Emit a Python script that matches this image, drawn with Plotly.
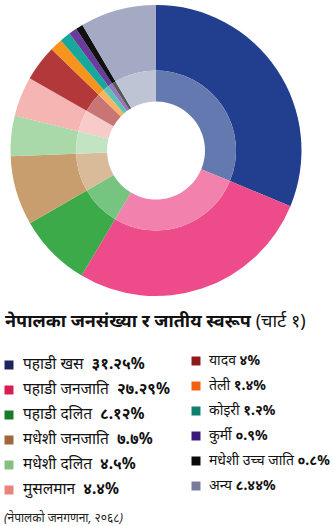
import plotly.graph_objects as go

labels = ["पहाडी खस", "पहाडी जनजाति", "पहाडी दलित", "मधेशी जनजाति", "मधेशी दलित", "मुसलमान",
          "यादव", "तेली", "कोइरी", "कुर्मी", "मधेशी उच्च जाति", "अन्य"]
values = [31.25, 27.29, 8.12, 7.7, 4.5, 4.4, 4.0, 1.4, 1.2, 0.9, 0.8, 8.44]
value_labels = ["३१.२५%", "२७.२९%", "८.१२%", "७.७%", "४.५%", "४.४%",
                "४%", "१.४%", "१.२%", "०.९%", "०.८%", "८.४४%"]
ring_colors = ["#213F8E", "#EE4B8A", "#3DAA4A", "#C99E6E", "#A9D9A9", "#F4B5B3",
               "#B2383A", "#F7941D", "#16A99B", "#6A3C9E", "#111111", "#A4AAC3"]
legend_colors = ["#1C2460", "#D81E50", "#1A7A2A", "#A0683A", "#86C080", "#E8847E",
                 "#8C1C1C", "#F06010", "#107F70", "#3A1A78", "#0A0A0A", "#787C9C"]
title_main = "नेपालका जनसंख्या र जातीय स्वरूप"
title_sub = "(चार्ट १)"
source = "(नेपालको जनगणना, २०६८)"

W, H = 333, 526
FONT = "Noto Sans, sans-serif"


def lighten(hexc, f=0.3):
    r, g, b = (int(hexc[i:i + 2], 16) for i in (1, 3, 5))
    r, g, b = (round(c * (1 - f) + 255 * f) for c in (r, g, b))
    return f"#{r:02X}{g:02X}{b:02X}"


inner_colors = [lighten(c) for c in ring_colors]

cx, cy = 156, 150.5
R_out, R_mid, R_in = 145.5, 80, 49


def dom(r):
    return dict(x=[(cx - r) / W, (cx + r) / W], y=[1 - (cy + r) / H, 1 - (cy - r) / H])


fig = go.Figure()
fig.add_trace(go.Pie(values=values, labels=labels, sort=False, direction="clockwise", rotation=0,
                     hole=R_mid / R_out, domain=dom(R_out), textinfo="none", hoverinfo="label+percent",
                     marker=dict(colors=ring_colors, line=dict(width=0)), showlegend=False))
fig.add_trace(go.Pie(values=values, labels=labels, sort=False, direction="clockwise", rotation=0,
                     hole=R_in / R_mid, domain=dom(R_mid), textinfo="none", hoverinfo="label+percent",
                     marker=dict(colors=inner_colors, line=dict(width=0)), showlegend=False))

# custom two-column legend
col_x = [9, 196]
text_x = [23, 209]
row_y0 = [365, 361]
row_dy = 25
font_size = [15.5, 14]
for col in range(2):
    idx = range(col * 6, col * 6 + 6)
    my = [row_y0[col] + (i % 6) * row_dy for i in idx]
    fig.add_trace(go.Scatter(x=[col_x[col]] * 6, y=my, mode="markers", hoverinfo="skip", showlegend=False,
                             marker=dict(symbol="square", size=9, color=[legend_colors[i] for i in idx],
                                         line=dict(width=0))))
    sep = "  " if col == 0 else " "
    fig.add_trace(go.Scatter(x=[text_x[col]] * 6, y=my, mode="text",
                             text=[f"{labels[i]}{sep}<b>{value_labels[i]}</b>" for i in idx],
                             textposition="middle right", hoverinfo="skip", showlegend=False,
                             textfont=dict(family=FONT, size=font_size[col], color="#111111")))

fig.add_annotation(x=3, y=320, xref="x", yref="y", xanchor="left", yanchor="middle", showarrow=False,
                   text=f"<b>{title_main}</b> {title_sub}", font=dict(family=FONT, size=18, color="#111111"))
fig.add_annotation(x=2, y=517, xref="x", yref="y", xanchor="left", yanchor="middle", showarrow=False,
                   text=f"<i>{source}</i>", font=dict(family=FONT, size=12, color="#222222"))

fig.update_xaxes(range=[0, W], visible=False, domain=[0, 1], fixedrange=True)
fig.update_yaxes(range=[H, 0], visible=False, domain=[0, 1], fixedrange=True)
fig.update_layout(width=W, height=H, margin=dict(l=0, r=0, t=0, b=0),
                  paper_bgcolor="white", plot_bgcolor="white", showlegend=False)
fig.write_html("out.html")
